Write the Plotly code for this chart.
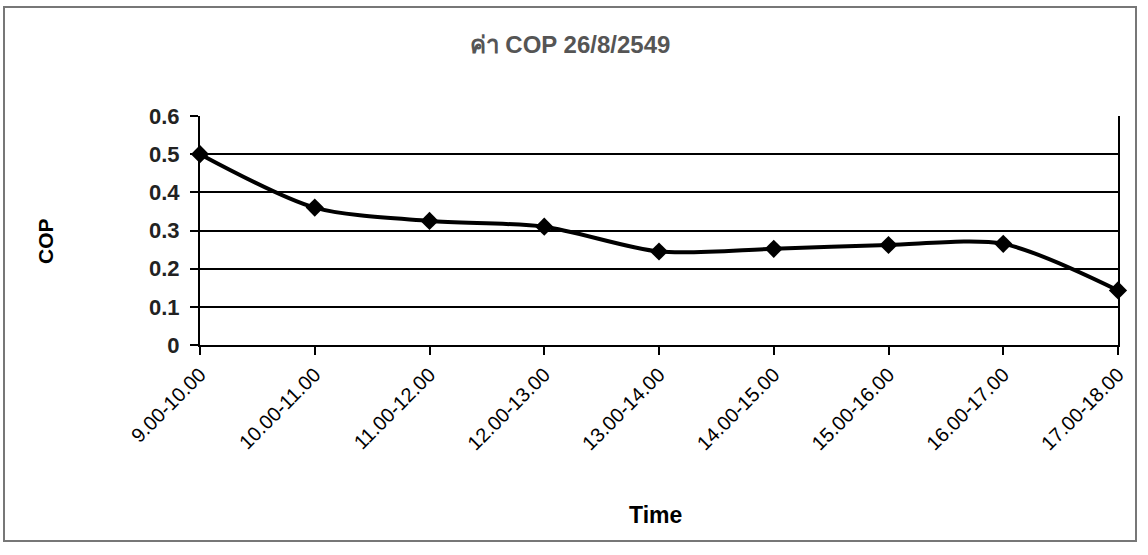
import plotly.graph_objects as go

time_labels = ["9.00-10.00", "10.00-11.00", "11.00-12.00", "12.00-13.00", "13.00-14.00",
               "14.00-15.00", "15.00-16.00", "16.00-17.00", "17.00-18.00"]
cop_values = [0.50, 0.36, 0.325, 0.31, 0.245, 0.252, 0.262, 0.265, 0.143]
y_ticks = [0, 0.1, 0.2, 0.3, 0.4, 0.5, 0.6]
y_tick_text = ["0", "0.1", "0.2", "0.3", "0.4", "0.5", "0.6"]

W, H = 1148, 555
L, R, T, B = 200, 30, 116, 210
pw, ph = W - L - R, H - T - B

def px_x(x):
    return (x - L) / pw

def px_y(y):
    return (H - B - y) / ph

fig = go.Figure()
fig.add_trace(go.Scatter(
    x=list(range(len(time_labels))), y=cop_values,
    mode="lines+markers",
    line=dict(color="black", width=4, shape="spline", smoothing=0.8),
    marker=dict(symbol="diamond", size=14, color="black"),
    showlegend=False, cliponaxis=False,
))

fig.update_layout(
    width=W, height=H,
    margin=dict(l=L, r=R, t=T, b=B),
    paper_bgcolor="white", plot_bgcolor="white",
    font=dict(family="Liberation Sans, Arial, sans-serif", color="black"),
    title=dict(text="<b>ค่า COP 26/8/2549</b>", x=px_x(570), xref="paper", xanchor="center",
               y=1 - 45 / H, yanchor="middle",
               font=dict(size=24, color="#555555")),
    xaxis=dict(
        range=[0, 8],
        tickmode="array", tickvals=list(range(len(time_labels))), ticktext=time_labels,
        tickangle=-45, tickfont=dict(size=20, color="black"),
        showline=True, linecolor="black", linewidth=2,
        ticks="outside", ticklen=8, tickcolor="black", tickwidth=1.5,
        showgrid=False, zeroline=False,
    ),
    yaxis=dict(
        range=[0, 0.6], tickvals=y_ticks, ticktext=["<b>%s</b>" % t for t in y_tick_text],
        tickfont=dict(size=22, color="#222222"), ticklabelstandoff=6,
        showline=True, linecolor="black", linewidth=2, mirror=True,
        ticks="outside", ticklen=8, tickcolor="black", tickwidth=1.5,
        showgrid=True, gridcolor="black", gridwidth=2, zeroline=False,
    ),
    annotations=[
        dict(text="<b>Time</b>", xref="paper", yref="paper", x=px_x(655), y=px_y(515),
             showarrow=False, xanchor="center", yanchor="middle",
             font=dict(size=23, color="black")),
        dict(text="<b>COP</b>", xref="paper", yref="paper", x=px_x(45), y=px_y(241),
             showarrow=False, xanchor="center", yanchor="middle", textangle=-90,
             font=dict(size=21, color="black")),
    ],
    shapes=[
        dict(type="rect", xref="paper", yref="paper",
             x0=px_x(4), x1=px_x(1136), y0=px_y(541), y1=px_y(7),
             line=dict(color="#777777", width=2), layer="below"),
    ],
)

fig.write_html("out.html")
